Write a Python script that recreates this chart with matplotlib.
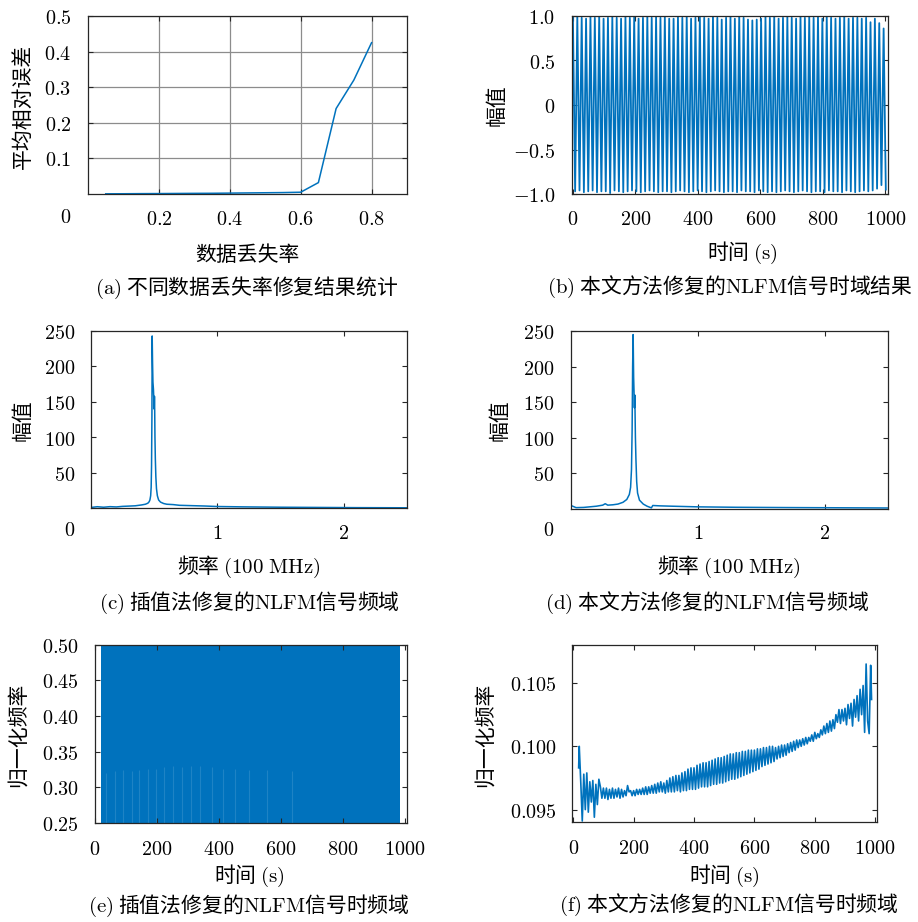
import numpy as np
import matplotlib
matplotlib.use("Agg")
import matplotlib.pyplot as plt

plt.rcParams['font.family'] = ['Noto Sans CJK SC', 'DejaVu Sans']
plt.rcParams['mathtext.fontset'] = 'cm'

# ---------------- data ----------------
# (a) error vs. data-loss rate
loss_rate = [0.05, 0.10, 0.15, 0.20, 0.25, 0.30, 0.35, 0.40, 0.45, 0.50, 0.55, 0.60, 0.65, 0.70, 0.75, 0.80]
mean_rel_err = [0.0005, 0.0007, 0.0010, 0.0012, 0.0015, 0.0018, 0.0020, 0.0025, 0.0030, 0.0035, 0.0040,
                0.0050, 0.032, 0.240, 0.320, 0.425]

# (b) time-domain waveform: extrema of the oscillation
b_time = list(range(0, 1005, 7))
b_amp = [0.98, -0.97, 1.00, -0.96, 0.98, -0.98, 0.97, -0.97, 0.99, -0.96,
         0.98, -0.98, 1.00, -0.97, 0.97, -0.97, 0.98, -0.99, 0.99, -0.96,
         0.98, -0.97, 0.97, -0.98, 1.00, -0.97, 0.98, -0.96, 0.99, -0.97,
         0.97, -0.98, 0.98, -0.97, 1.00, -0.96, 0.98, -0.97, 0.99, -0.98,
         0.98, -0.97, 0.99, -0.97, 0.97, -0.98, 0.97, -0.97, 0.99, -0.96,
         0.98, -0.97, 1.00, -0.98, 0.97, -0.97, 0.98, -0.96, 0.99, -0.97,
         0.98, -0.98, 0.97, -0.97, 1.00, -0.96, 0.98, -0.97, 0.96, -0.98,
         0.98, -0.97, 0.99, -0.97, 0.97, -0.98, 1.00, -0.96, 0.98, -0.97,
         0.96, -0.97, 0.95, -0.98, 0.96, -0.96, 0.97, -0.97, 0.99, -0.98,
         0.98, -0.97, 1.00, -0.98, 0.97, -0.97, 0.98, -0.96, 0.99, -0.97,
         0.98, -0.98, 0.97, -0.97, 1.00, -0.96, 0.98, -0.97, 0.99, -0.98,
         0.98, -0.97, 0.99, -0.97, 0.97, -0.98, 1.00, -0.96, 0.98, -0.97,
         0.97, -0.97, 0.98, -0.98, 0.99, -0.96, 0.97, -0.97, 0.98, -0.98,
         0.98, -0.97, 0.97, -0.96, 0.98, -0.97, 0.93, -0.96, 0.97, -0.94,
         0.92, -0.90, 0.86, -0.95]

# (c) spectrum, interpolation repair
c_freq = [0.0, 0.05, 0.10, 0.15, 0.20, 0.25, 0.30, 0.35, 0.40, 0.43, 0.45, 0.46, 0.466, 0.472, 0.476,
          0.479, 0.482, 0.484, 0.487, 0.490, 0.494, 0.498, 0.500, 0.502, 0.504, 0.506, 0.509, 0.513,
          0.518, 0.525, 0.535, 0.55, 0.575, 0.60, 0.65, 0.70, 0.80, 0.90, 1.0, 1.2, 1.5, 1.8, 2.1, 2.5]
c_amp = [1.5, 2.5, 1.8, 2.6, 2.2, 3.0, 3.4, 3.8, 5.0, 6.0, 7.5, 9.5, 12, 18, 30,
         60, 130, 243, 205, 178, 168, 150, 140, 158, 138, 100, 70, 45,
         28, 18, 12, 9, 7, 6, 5.5, 4.5, 4.0, 3.5, 2.8, 2.3, 1.8, 1.5, 1.2, 1.0]

# (d) spectrum, proposed method
d_freq = [0.0, 0.04, 0.10, 0.20, 0.25, 0.27, 0.29, 0.33, 0.37, 0.41, 0.44, 0.46, 0.47, 0.477, 0.482,
          0.486, 0.490, 0.494, 0.497, 0.500, 0.503, 0.505, 0.508, 0.512, 0.518, 0.525, 0.54, 0.57,
          0.60, 0.634, 0.645, 0.70, 0.80, 1.0, 1.3, 1.7, 2.1, 2.5]
d_amp = [4.5, 1.5, 1.8, 3.5, 5.0, 7.0, 5.0, 5.5, 6.5, 9, 13, 20, 30, 55, 110,
         200, 245, 185, 165, 142, 160, 138, 100, 70, 38, 22, 12, 6.5,
         3.5, 1.2, 4.5, 4.0, 3.5, 2.6, 2.0, 1.6, 1.3, 1.0]

# (e) time-frequency, interpolation repair (filled band + faint gaps)
e_span = [20, 985]
e_band = [0.25, 0.50]
e_gap_time = [35, 64, 91, 118, 143, 170, 196, 223, 250, 280, 309, 340, 376, 413, 452, 495, 554, 634]
e_gap_top = [0.320, 0.322, 0.324, 0.322, 0.324, 0.326, 0.326, 0.328, 0.330, 0.328, 0.330,
             0.330, 0.328, 0.326, 0.326, 0.324, 0.324, 0.322]

# (f) time-frequency, proposed method (normalised frequency x 1e-5)
f_time = [18] + list(range(20, 990, 5)) + [988]
f_val_e5 = [9830,
    10000, 9720, 9410, 9780, 9500, 9790, 9480, 9720, 9560, 9730,
    9440, 9700, 9540, 9740, 9680, 9590, 9670, 9590, 9670, 9580,
    9660, 9590, 9670, 9590, 9660, 9600, 9670, 9590, 9660, 9600,
    9650, 9610, 9690, 9640, 9650, 9610, 9650, 9610, 9660, 9620,
    9660, 9620, 9670, 9620, 9680, 9620, 9680, 9630, 9690, 9630,
    9700, 9630, 9710, 9640, 9720, 9640, 9710, 9630, 9730, 9640,
    9750, 9640, 9760, 9640, 9770, 9650, 9770, 9640, 9790, 9650,
    9800, 9650, 9820, 9660, 9830, 9660, 9830, 9660, 9850, 9670,
    9860, 9680, 9870, 9680, 9870, 9680, 9880, 9690, 9890, 9700,
    9900, 9700, 9910, 9710, 9910, 9710, 9920, 9720, 9930, 9730,
    9940, 9740, 9940, 9740, 9950, 9750, 9950, 9760, 9960, 9770,
    9960, 9780, 9970, 9790, 9970, 9800, 9970, 9810, 9980, 9820,
    9980, 9840, 9990, 9850, 9990, 9860, 10000, 9870, 10000, 9880,
    9990, 9900, 10000, 9910, 10010, 9920, 10010, 9930, 10020, 9950,
    10030, 9960, 10040, 9970, 10050, 9990, 10050, 10000, 10060, 10010,
    10070, 10020, 10070, 10040, 10090, 10040, 10110, 10060, 10100, 10070,
    10130, 10090, 10160, 10100, 10180, 10110, 10200, 10120, 10210, 10140,
    10250, 10190, 10290, 10180, 10290, 10200, 10300, 10170, 10330, 10220,
    10340, 10160, 10370, 10230, 10400, 10200, 10450, 10250, 10480, 10110,
    10650, 10200, 10100, 10640,
    10370]
assert len(f_time) == len(f_val_e5)
assert len(b_time) == len(b_amp)
assert len(c_freq) == len(c_amp) and len(d_freq) == len(d_amp)

# ---------------- figure ----------------
W, H = 918, 922
fig = plt.figure(figsize=(W / 100, H / 100), dpi=100)
BLUE = '#0072BD'
DARK = '#262626'
TICK_FS = 14.5
CJK_FS = 15


def add_ax(x0, y0, x1, y1):
    return fig.add_axes([x0 / W, 1 - y1 / H, (x1 - x0) / W, (y1 - y0) / H])


def ptext(x, y, s, rot=0, fs=CJK_FS):
    fig.text(x / W, 1 - y / H, s, ha='center', va='center', rotation=rot, fontsize=fs)


def style(ax, xt, xl, yt, yl, xpad, ypad):
    ax.set_xticks(xt)
    ax.set_xticklabels(['$%s$' % s for s in xl], fontsize=TICK_FS)
    ax.set_yticks(yt)
    ax.set_yticklabels(['$%s$' % s for s in yl], fontsize=TICK_FS)
    ax.tick_params(axis='both', direction='in', length=3.5, width=0.8, color=DARK,
                   top=True, right=True, labelcolor='black')
    ax.tick_params(axis='x', pad=xpad)
    ax.tick_params(axis='y', pad=ypad)
    for s in ax.spines.values():
        s.set_color(DARK)
        s.set_linewidth(0.9)


# (a)
axa = add_ax(88, 16, 407, 194)
axa.plot(loss_rate, mean_rel_err, color=BLUE, lw=1.1)
axa.set_xlim(0, 0.9)
axa.set_ylim(0, 0.5)
style(axa, [0.2, 0.4, 0.6, 0.8], ['0.2', '0.4', '0.6', '0.8'],
      [0.1, 0.2, 0.3, 0.4, 0.5], ['0.1', '0.2', '0.3', '0.4', '0.5'], 11, 12)
axa.grid(True, color='#8c8c8c', lw=0.9)
axa.set_axisbelow(True)
ptext(66, 217, '$0$', fs=TICK_FS)
ptext(23, 106, '平均相对误差', rot=90)
ptext(247, 255, '数据丢失率')
ptext(247, 288, r'$(\mathrm{a})$ 不同数据丢失率修复结果统计')

# (b)
axb = add_ax(572, 16, 888, 194)
axb.plot(b_time, b_amp, color=BLUE, lw=1.3)
axb.set_xlim(-3, 1008)
axb.set_ylim(-1, 1)
style(axb, [0, 200, 400, 600, 800, 1000], ['0', '200', '400', '600', '800', '1000'],
      [-1, -0.5, 0, 0.5, 1], ['-1.0', '-0.5', '0', '0.5', '1.0'], 11, 12)
ptext(497, 105, '幅值', rot=90)
ptext(742, 253, r'时间 $(\mathrm{s})$')
ptext(730, 287, r'$(\mathrm{b})$ 本文方法修复的$\mathrm{NLFM}$信号时域结果')

# (c)
axc = add_ax(91, 331, 407, 508.5)
axc.plot(c_freq, c_amp, color=BLUE, lw=1.1)
axc.set_xlim(0, 2.5)
axc.set_ylim(0, 250)
style(axc, [1, 2], ['1', '2'], [50, 100, 150, 200, 250], ['50', '100', '150', '200', '250'], 10.5, 11)
ptext(70, 531, '$0$', fs=TICK_FS)
ptext(23, 420, '幅值', rot=90)
ptext(249, 567, r'频率 $(100\ \mathrm{MHz})$')
ptext(249, 603, r'$(\mathrm{c})$ 插值法修复的$\mathrm{NLFM}$信号频域')

# (d)
axd = add_ax(571, 331, 888, 508.7)
axd.plot(d_freq, d_amp, color=BLUE, lw=1.1)
axd.set_xlim(0, 2.5)
axd.set_ylim(0, 250)
style(axd, [1, 2], ['1', '2'], [50, 100, 150, 200, 250], ['50', '100', '150', '200', '250'], 10.5, 12)
ptext(549, 531, '$0$', fs=TICK_FS)
ptext(500, 420, '幅值', rot=90)
ptext(729, 567, r'频率 $(100\ \mathrm{MHz})$')
ptext(707, 603, r'$(\mathrm{d})$ 本文方法修复的$\mathrm{NLFM}$信号频域')

# (e)
axe = add_ax(95, 644.7, 407, 822.7)
axe.fill_between(e_span, e_band[0], e_band[1], color=BLUE, lw=0)
axe.vlines(e_gap_time, e_band[0], e_gap_top, color='white', alpha=0.12, lw=0.8)
axe.set_xlim(0, 1006)
axe.set_ylim(0.25, 0.50)
style(axe, [0, 200, 400, 600, 800, 1000], ['0', '200', '400', '600', '800', '1000'],
      [0.25, 0.30, 0.35, 0.40, 0.45, 0.50], ['0.25', '0.30', '0.35', '0.40', '0.45', '0.50'], 11.5, 11.5)
ptext(18, 735, '归一化频率', rot=90)
ptext(249, 876, r'时间 $(\mathrm{s})$')
ptext(249, 906, r'$(\mathrm{e})$ 插值法修复的$\mathrm{NLFM}$信号时频域')

# (f)
axf = add_ax(572.3, 645, 876.7, 822.3)
axf.plot(f_time, np.array(f_val_e5) * 1e-5, color=BLUE, lw=1.2)
axf.set_xlim(-3, 1005)
axf.set_ylim(0.094, 0.108)
style(axf, [0, 200, 400, 600, 800, 1000], ['0', '200', '400', '600', '800', '1000'],
      [0.095, 0.100, 0.105], ['0.095', '0.100', '0.105'], 11, 11)
ptext(485, 735, '归一化频率', rot=90)
ptext(724, 876, r'时间 $(\mathrm{s})$')
ptext(729, 905, r'$(\mathrm{f})$ 本文方法修复的$\mathrm{NLFM}$信号时频域')

fig.savefig('out.png', dpi=100)
